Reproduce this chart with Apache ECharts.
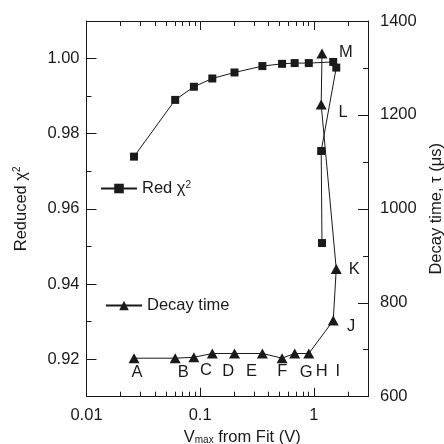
<!DOCTYPE html>
<html><head><meta charset="utf-8">
<script src="https://cdn.jsdelivr.net/npm/echarts@6/dist/echarts.min.js"></script>
<style>html,body{margin:0;padding:0;background:#fff}#c{width:444px;height:444px}</style>
</head><body><div id="c"></div>
<script>
// ---- data ----
const pointLetters = ['A','B','C','D','E','F','G','H','I','J','K','L','M'];
const vmaxFit = [0.0262, 0.0603, 0.0881, 0.128, 0.2006, 0.353, 0.526, 0.679, 0.904, 1.483, 1.577, 1.162, 1.181];
const redChi2 = [0.9739, 0.9890, 0.9925, 0.9947, 0.9963, 0.9980, 0.9986, 0.9988, 0.9988, 0.9991, 0.9976, 0.9754, 0.9509];
const decayTime = [682, 682, 684, 692, 692, 692, 682, 692, 692, 762, 872, 1222, 1331];
const xMajorTicks = [0.01, 0.1, 1];
const xMinorTicks = [0.02,0.03,0.04,0.05,0.06,0.07,0.08,0.09,0.2,0.3,0.4,0.5,0.6,0.7,0.8,0.9,2];
const chiMajorTicks = [0.92, 0.94, 0.96, 0.98, 1.00];
const chiMinorTicks = [0.93, 0.95, 0.97, 0.99];

// ---- style ----
const FONT = '"Liberation Sans", Arial, sans-serif';
const INK = '#1a1a1a';
const FS = 16.5;
const letterOffsets = [[3,14],[8,14],[12,13],[16,18],[17,18],[20,18],[24,14],[27,18],[29,18],[18,6],[18,0],[22,8],[24,-1]];

const chiData = vmaxFit.map((x, i) => [x, redChi2[i]]);
const tauData = vmaxFit.map((x, i) => ({
  value: [x, decayTime[i]],
  label: { show: true, formatter: pointLetters[i], position: 'inside', offset: letterOffsets[i],
           color: INK, fontSize: FS, fontFamily: FONT }
}));

function xAxisDef(pos, major, labels) {
  return {
    type: 'log', logBase: 10, min: 0.01, max: 3, position: pos, gridIndex: 0,
    axisLine: { show: major, onZero: false, lineStyle: { color: INK, width: 1 } },
    axisTick: { show: true, inside: true, length: major ? 9 : 5,
                customValues: major ? xMajorTicks : xMinorTicks, lineStyle: { color: INK, width: 1 } },
    axisLabel: { show: labels, customValues: xMajorTicks, margin: 10, color: INK, fontSize: FS, fontFamily: FONT,
                 formatter: v => String(v) },
    splitLine: { show: false },
    minorTick: { show: false }
  };
}

const xAxes = [xAxisDef('bottom', true, true), xAxisDef('bottom', false, false),
               xAxisDef('top', true, false), xAxisDef('top', false, false)];
xAxes[0].name = 'V{sub|max} from Fit (V)';
xAxes[0].nameLocation = 'middle';
xAxes[0].nameGap = 29;
xAxes[0].nameTextStyle = { color: INK, fontSize: FS, fontFamily: FONT, padding: [0, 0, 0, 30],
  rich: { sub: { fontSize: 10, fontFamily: FONT, color: INK, verticalAlign: 'bottom' } } };

const option = {
  animation: false,
  backgroundColor: '#fff',
  grid: { left: 86.5, right: 76, top: 21, bottom: 47.3, containLabel: false, outerBoundsMode: 'none' },
  xAxis: xAxes,
  yAxis: [
    { type: 'value', position: 'left', min: 0.91, max: 1.01, interval: 0.01,
      name: 'Reduced χ{sup|2}', nameLocation: 'middle', nameGap: 57, nameRotate: 90,
      nameTextStyle: { color: INK, fontSize: FS, fontFamily: FONT,
        rich: { sup: { fontSize: 10, fontFamily: FONT, color: INK, verticalAlign: 'top' } } },
      axisLine: { show: true, onZero: false, lineStyle: { color: INK, width: 1 } },
      axisTick: { show: true, inside: true, length: 10, customValues: chiMajorTicks, lineStyle: { color: INK } },
      axisLabel: { show: true, customValues: chiMajorTicks, margin: 7, color: INK, fontSize: FS, fontFamily: FONT,
                   formatter: v => v.toFixed(2) },
      splitLine: { show: false } },
    { type: 'value', position: 'right', min: 600, max: 1400, interval: 200,
      name: 'Decay time, τ (μs)', nameLocation: 'middle', nameGap: 44, nameRotate: 90,
      nameTextStyle: { color: INK, fontSize: FS, fontFamily: FONT },
      axisLine: { show: true, onZero: false, lineStyle: { color: INK, width: 1 } },
      axisTick: { show: true, inside: true, length: 10, lineStyle: { color: INK } },
      minorTick: { show: true, splitNumber: 2, length: 5, lineStyle: { color: INK } },
      axisLabel: { show: true, margin: 12, color: INK, fontSize: FS, fontFamily: FONT,
                   formatter: v => String(v) },
      splitLine: { show: false } },
    { type: 'value', position: 'left', min: 0.91, max: 1.01, interval: 0.01,
      axisLine: { show: false },
      axisTick: { show: true, inside: true, length: 5, customValues: chiMinorTicks, lineStyle: { color: INK } },
      axisLabel: { show: false },
      splitLine: { show: false } }
  ],
  legend: [
    { data: ['Red chi2'], left: 100, top: 180, padding: 0, itemWidth: 36, itemHeight: 12, itemGap: 0,
      formatter: () => 'Red χ{sup|2}',
      textStyle: { color: INK, fontSize: FS, fontFamily: FONT,
        rich: { sup: { fontSize: 10, fontFamily: FONT, color: INK, verticalAlign: 'top' } } } },
    { data: ['Decay time'], left: 105, top: 297, padding: 0, itemWidth: 36, itemHeight: 12,
      textStyle: { color: INK, fontSize: FS, fontFamily: FONT } }
  ],
  series: [
    { name: 'Red chi2', type: 'line', xAxisIndex: 0, yAxisIndex: 0, data: chiData,
      symbol: 'rect', symbolSize: 8, showSymbol: true,
      lineStyle: { color: INK, width: 1 }, itemStyle: { color: INK, borderWidth: 0 } },
    { name: 'Decay time', type: 'line', xAxisIndex: 0, yAxisIndex: 1, data: tauData,
      symbol: 'triangle', symbolSize: [11, 10], showSymbol: true,
      lineStyle: { color: INK, width: 1 }, itemStyle: { color: INK, borderWidth: 0 } }
  ]
};
const chart = echarts.init(document.getElementById('c'), null, { renderer: 'canvas' });
chart.setOption(option);
</script></body></html>
